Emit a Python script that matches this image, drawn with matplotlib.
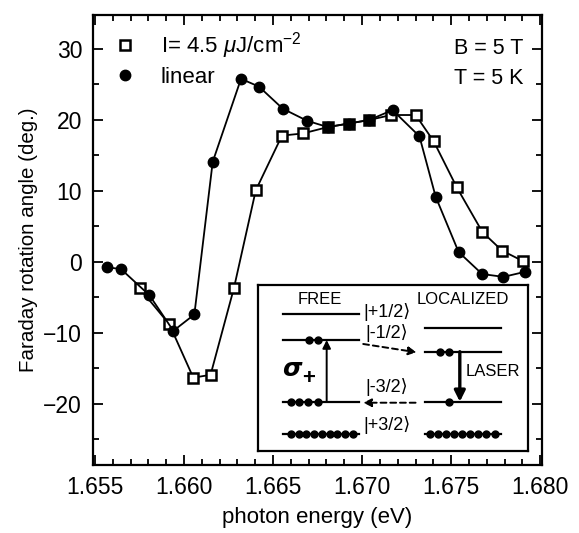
import matplotlib
matplotlib.use("Agg")
import matplotlib.pyplot as plt
from matplotlib.lines import Line2D
from matplotlib.ticker import MultipleLocator

plt.rcParams['font.family'] = ['Liberation Sans', 'DejaVu Sans']
plt.rcParams['mathtext.fontset'] = 'custom'
plt.rcParams['mathtext.it'] = 'Liberation Sans:italic'
plt.rcParams['mathtext.rm'] = 'Liberation Sans'

# pumped (I = 4.5 uJ/cm^2), open squares
energy_pump = [1.65750, 1.65918, 1.66052, 1.66149, 1.66280, 1.66403, 1.66550,
               1.66667, 1.66807, 1.66925, 1.67040, 1.67163, 1.67301, 1.67402,
               1.67532, 1.67676, 1.67786, 1.67905]
angle_pump = [-3.7, -8.8, -16.3, -15.9, -3.7, 10.1, 17.8,
              18.1, 19.0, 19.5, 20.0, 20.7, 20.7, 17.0,
              10.5, 4.2, 1.6, 0.1]

# linear, filled circles
energy_lin = [1.65568, 1.65646, 1.65806, 1.65940, 1.66058, 1.66161, 1.66320,
              1.66421, 1.66554, 1.66690, 1.66807, 1.66925, 1.67040, 1.67171,
              1.67322, 1.67413, 1.67542, 1.67674, 1.67794, 1.67913]
angle_lin = [-0.75, -1.0, -4.7, -9.7, -7.4, 14.1, 25.8,
             24.7, 21.6, 19.9, 19.0, 19.5, 20.0, 21.4,
             17.7, 9.2, 1.4, -1.7, -2.1, -1.4]

label_pump = r'I= 4.5 $\mathit{\mu}$J/cm$^{-2}$'
label_lin = 'linear'

fig = plt.figure(figsize=(5.79, 5.33), dpi=100)
ax = fig.add_axes([0.161, 0.1276, 0.775, 0.8444])

sq_style = dict(marker='s', ms=6.5, mfc='white', mec='black', mew=1.8)
ci_style = dict(marker='o', ms=7.5, mfc='black', mec='black')
ax.plot(energy_pump, angle_pump, color='black', lw=1.3, zorder=3, **sq_style)
ax.plot(energy_lin, angle_lin, color='black', lw=1.3, zorder=4, **ci_style)

ax.set_xlim(1.6549, 1.6801)
ax.set_ylim(-28.6, 34.8)
ax.xaxis.set_major_locator(MultipleLocator(0.005))
ax.xaxis.set_minor_locator(MultipleLocator(0.001))
ax.yaxis.set_minor_locator(MultipleLocator(5))
ax.set_yticks([-20, -10, 0, 10, 20, 30])
ax.xaxis.set_major_formatter(plt.FormatStrFormatter('%.3f'))
ax.tick_params(which='both', direction='in', top=True, right=True,
               labelsize=16.5, width=1.3)
ax.tick_params(which='major', length=7, pad=8)
ax.tick_params(which='minor', length=4)
for s in ax.spines.values():
    s.set_linewidth(1.6)

ax.set_xlabel('photon energy (eV)', fontsize=16, labelpad=6)
ax.set_ylabel('Faraday rotation angle (deg.)', fontsize=14.8, labelpad=4)

handles = [Line2D([], [], ls='none', color='black', **sq_style),
           Line2D([], [], ls='none', color='black', **ci_style)]
ax.legend(handles, [label_pump, label_lin], loc='upper left', frameon=False,
          fontsize=16, handlelength=0.8, handletextpad=1.2,
          borderaxespad=0.0, labelspacing=0.25,
          bbox_to_anchor=(0.032, 0.985))

ax.text(0.958, 0.925, 'B = 5 T', transform=ax.transAxes, ha='right',
        va='center', fontsize=15.5)
ax.text(0.958, 0.858, 'T = 5 K', transform=ax.transAxes, ha='right',
        va='center', fontsize=15.5)

# inset: level scheme (drawn in its own pixel-like coordinates)
ins = ax.inset_axes([0.368, 0.031, 0.601, 0.369])
ins.set_xlim(0, 270)
ins.set_ylim(166, 0)
ins.set_xticks([])
ins.set_yticks([])
for s in ins.spines.values():
    s.set_linewidth(1.6)

free_x = (25, 101)
loc_x = (166.7, 243.4)
free_levels = [29.3, 55, 116.7, 149.3]
loc_levels = [42.7, 66.7, 116.7, 149.3]
for y in free_levels:
    ins.plot(free_x, [y, y], color='black', lw=1.6)
for y in loc_levels:
    ins.plot(loc_x, [y, y], color='black', lw=1.6)

dots_row = [32.4 + 7.8 * i for i in range(9)]
dots_loc = [171.7 + 8.1 * i for i in range(9)]
dot = dict(ls='none', marker='o', color='black', ms=5)
ins.plot([50.7, 59.4], [55, 55], **dot)
ins.plot([32.4, 41, 50, 59.4], [116.7] * 4, **dot)
ins.plot(dots_row, [149.3] * 9, **dot)
ins.plot(dots_loc, [149.3] * 9, **dot)
ins.plot([181.7, 191], [66.7, 66.7], **dot)
ins.plot([190.7], [116.7], **dot)

ins.annotate('', xy=(68.4, 55), xytext=(68.4, 116.7),
             arrowprops=dict(arrowstyle='-|>', color='black', lw=1.4,
                             mutation_scale=12, shrinkA=0, shrinkB=0))
ins.annotate('', xy=(201.7, 116.7), xytext=(201.7, 66.7),
             arrowprops=dict(arrowstyle='-|>', color='black', lw=2.4,
                             mutation_scale=16, shrinkA=0, shrinkB=0))
ins.annotate('', xy=(158.4, 67.3), xytext=(105, 59),
             arrowprops=dict(arrowstyle='-|>', color='black', lw=1.4,
                             ls=(0, (3, 2)), mutation_scale=12,
                             shrinkA=0, shrinkB=0))
ins.annotate('', xy=(105, 117.7), xytext=(157.4, 117.7),
             arrowprops=dict(arrowstyle='-|>', color='black', lw=1.4,
                             ls=(0, (3, 2)), mutation_scale=12,
                             shrinkA=0, shrinkB=0))

ins.text(61.7, 15, 'FREE', ha='center', va='center', fontsize=12)
ins.text(205, 15, 'LOCALIZED', ha='center', va='center', fontsize=12)
for lab, y in [('|+1/2⟩', 26.7), ('|-1/2⟩', 47.7), ('|-3/2⟩', 101.7),
               ('|+3/2⟩', 140)]:
    ins.text(128.4, y, lab, ha='center', va='center', fontsize=13,
             family=['Liberation Sans', 'DejaVu Sans'])
ins.text(34, 84, r'$\boldsymbol{\sigma}$', ha='center', va='center',
         fontsize=18, family='DejaVu Sans')
ins.text(50, 93, '+', ha='center', va='center', fontsize=16,
         fontweight='bold')
ins.text(235, 86, 'LASER', ha='center', va='center', fontsize=12)

fig.savefig('out.png', dpi=100)
